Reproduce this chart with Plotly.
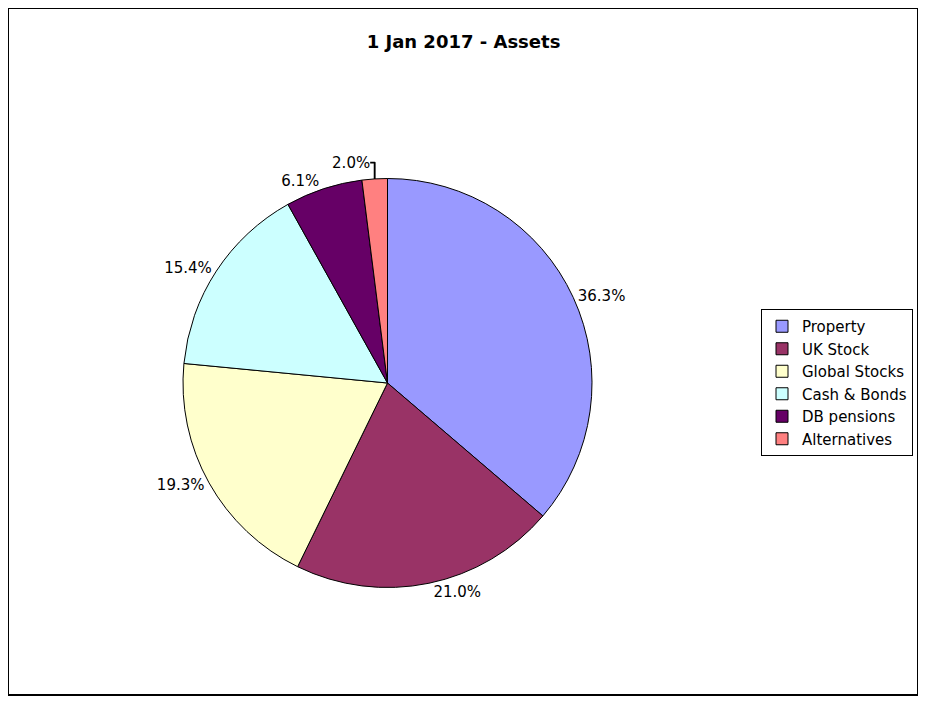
import plotly.graph_objects as go

categories = ["Property", "UK Stock", "Global Stocks", "Cash & Bonds", "DB pensions", "Alternatives"]
values = [36.3, 21.0, 19.3, 15.4, 6.1, 2.0]
colors = ["#9999FF", "#993366", "#FFFFCC", "#CCFFFF", "#660066", "#FF8080"]

# the page puts the figure 8px in from the window corner
OFF = 8
W, H = 914, 690


def px_x(x):
    # window pixel -> paper fraction
    return (x - OFF) / W


def px_y(y):
    return 1 - (y - OFF) / H


# pie: centre (387, 383), radius ~204 in the reference
cx, cy, r = 387.5, 383, 204.5

fig = go.Figure()
fig.add_trace(
    go.Pie(
        labels=categories,
        values=values,
        sort=False,
        direction="clockwise",
        rotation=0,
        marker=dict(colors=colors, line=dict(color="black", width=1)),
        texttemplate="%{percent:.1%}",
        textposition="outside",
        textfont=dict(family="DejaVu Sans", size=15, color="black"),
        hoverinfo="label+percent",
        domain=dict(x=[px_x(cx - r), px_x(cx + r)], y=[px_y(cy + r), px_y(cy - r)]),
        showlegend=True,
    )
)

fig.update_layout(
    width=W,
    height=H,
    margin=dict(l=0, r=0, t=0, b=0),
    paper_bgcolor="white",
    plot_bgcolor="white",
    font=dict(family="DejaVu Sans", size=15, color="black"),
    title=dict(
        text="<b>1 Jan 2017 - Assets</b>",
        x=px_x(463.5),
        xanchor="center",
        y=px_y(42),
        yanchor="middle",
        font=dict(family="DejaVu Sans", size=18, color="black"),
    ),
    legend=dict(
        x=px_x(761),
        y=px_y(382.5),
        xanchor="left",
        yanchor="middle",
        bgcolor="white",
        bordercolor="black",
        borderwidth=1,
        font=dict(family="DejaVu Sans", size=15, color="black"),
    ),
    shapes=[
        dict(
            type="rect",
            xref="paper",
            yref="paper",
            x0=px_x(8),
            x1=px_x(918),
            y0=px_y(695),
            y1=px_y(8),
            line=dict(color="black", width=2),
        )
    ],
)

fig.write_html("out.html")
